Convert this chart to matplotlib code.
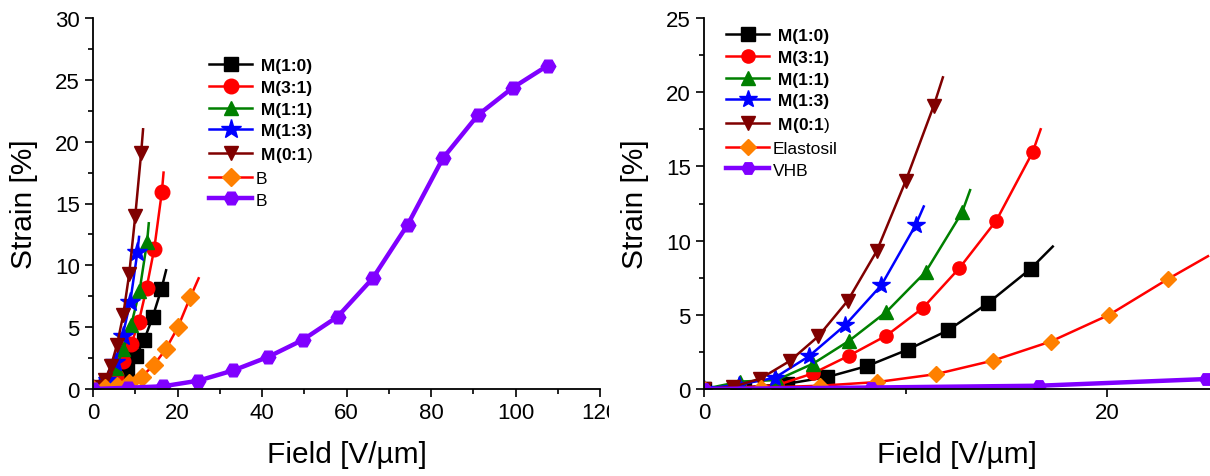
import matplotlib
matplotlib.use('Agg')
import matplotlib.pyplot as plt
from matplotlib.ticker import MultipleLocator
from matplotlib.transforms import Bbox

plt.rcParams['font.family'] = ['Liberation Sans', 'DejaVu Sans']
plt.rcParams['mathtext.fontset'] = 'custom'
plt.rcParams['mathtext.rm'] = 'Liberation Sans'
plt.rcParams['mathtext.bf'] = 'Liberation Sans:bold'

# data (field in V/um, strain in %); last point of a curve may carry no marker
x_10 = [0, 2.0, 4.1, 6.1, 8.1, 10.1, 12.1, 14.1, 16.2, 17.3]
y_10 = [0, 0.1, 0.35, 0.8, 1.55, 2.65, 3.95, 5.8, 8.1, 9.6]
x_31 = [0, 1.8, 3.6, 5.4, 7.2, 9.05, 10.85, 12.67, 14.5, 16.3, 16.7]
y_31 = [0, 0.1, 0.25, 1.05, 2.25, 3.6, 5.45, 8.15, 11.35, 15.95, 17.5]
x_11 = [0, 1.8, 3.6, 5.4, 7.2, 9.05, 11.0, 12.8, 13.2]
y_11 = [0, 0.5, 0.6, 1.7, 3.25, 5.2, 7.9, 11.9, 13.4]
x_13 = [0, 1.75, 3.5, 5.2, 7.0, 8.8, 10.5, 10.9]
y_13 = [0, 0.3, 0.75, 2.2, 4.3, 7.0, 11.05, 12.3]
x_01 = [0, 1.43, 2.8, 4.27, 5.67, 7.13, 8.57, 10.0, 11.4, 11.85]
y_01 = [0, 0.15, 0.7, 1.9, 3.55, 5.95, 9.3, 14.0, 19.1, 21.0]
x_el = [0, 2.85, 5.75, 8.6, 11.5, 14.35, 17.2, 20.1, 23.0, 25.0]
y_el = [0, 0.1, 0.22, 0.47, 1.0, 1.92, 3.2, 5.0, 7.4, 8.95]
x_vhb = [0, 8.3, 16.6, 24.9, 33.2, 41.5, 49.6, 57.9, 66.2, 74.5, 82.8, 91.1, 99.3, 107.6]
y_vhb = [0, 0.1, 0.22, 0.67, 1.5, 2.6, 3.96, 5.85, 8.95, 13.3, 18.65, 22.15, 24.35, 26.15]

labels_right = [' M(1:0)', ' M(3:1)', ' M(1:1)', ' M(1:3)',
                r' $\mathbf{M(0\hspace{-0.2}:\hspace{-0.2}1}$)', 'Elastosil', 'VHB']
labels_left = labels_right[:5] + ['B', 'B']

series = [
    (x_10, y_10, 'black', 'black', 's', -1),
    (x_31, y_31, 'red', 'red', 'o', -1),
    (x_11, y_11, 'green', 'green', '^', -1),
    (x_13, y_13, 'blue', 'blue', '*', -1),
    (x_01, y_01, '#800000', '#800000', 'v', -1),
    (x_el, y_el, 'red', '#ff8000', 'D', -1),
    (x_vhb, y_vhb, '#8000ff', '#8000ff', 'H', None),
]

fig = plt.figure(figsize=(12.1, 4.77), dpi=100)
ax1 = fig.add_axes([93 / 1210, 87 / 477, 507 / 1210, 371 / 477])
ax2 = fig.add_axes([704 / 1210, 87 / 477, 506 / 1210, 371 / 477])


def draw(ax, labels, ms):
    for (x, y, lc, mc, mk, last), lab in zip(series, labels):
        lw = 3.2 if lc == '#8000ff' else 1.8
        size = ms * 1.4 if mk == '*' else ms
        if mk == 'D':
            size = ms * 0.85
        ax.plot(x, y, color=lc, lw=lw, marker=mk, ms=size, mfc=mc, mec=mc,
                markevery=slice(0, last), label=lab, clip_on=True)


draw(ax1, labels_left, 10.5)
draw(ax2, labels_right, 9.5)

ax1.set_xlim(0, 120)
ax1.set_ylim(0, 30)
ax1.xaxis.set_major_locator(MultipleLocator(20))
ax1.xaxis.set_minor_locator(MultipleLocator(10))
ax1.yaxis.set_major_locator(MultipleLocator(5))
ax1.yaxis.set_minor_locator(MultipleLocator(2.5))

ax2.set_xlim(0, 25.1)
ax2.set_ylim(0, 25)
ax2.xaxis.set_major_locator(MultipleLocator(20))
ax2.xaxis.set_minor_locator(MultipleLocator(10))
ax2.yaxis.set_major_locator(MultipleLocator(5))
ax2.yaxis.set_minor_locator(MultipleLocator(2.5))

for ax in (ax1, ax2):
    ax.spines['top'].set_visible(False)
    ax.spines['right'].set_visible(False)
    ax.spines['left'].set_linewidth(1.3)
    ax.spines['bottom'].set_linewidth(1.3)
    ax.tick_params(which='major', direction='out', length=6, width=1.2, labelsize=16)
    ax.tick_params(which='minor', direction='out', length=3.5, width=1.2)
    ax.set_xlabel('Field [V/\u00b5m]', fontsize=21.5, labelpad=12)
    ax.set_ylabel('Strain [%]', fontsize=21.5, labelpad=12)

leg_kw = dict(frameon=False, fontsize=12.5, handlelength=2.5, handletextpad=0.2,
              labelspacing=0.38, borderpad=0, borderaxespad=0, loc='upper left',
              numpoints=1)
leg1 = ax1.legend(bbox_to_anchor=(209 / 1210, 1 - 59 / 477), bbox_transform=fig.transFigure, **leg_kw)
leg2 = ax2.legend(bbox_to_anchor=(726 / 1210, 1 - 29 / 477), bbox_transform=fig.transFigure, **leg_kw)
for leg in (leg1, leg2):
    for t in leg.get_texts()[:4]:
        t.set_fontweight('bold')

# the "120" label is cut off by the right panel in the original
fig.canvas.draw()
for lab in ax1.get_xticklabels():
    lab.set_clip_box(Bbox.from_extents(0, 0, 609, 477))
    lab.set_clip_on(True)

plt.savefig('out.png', dpi=100)
